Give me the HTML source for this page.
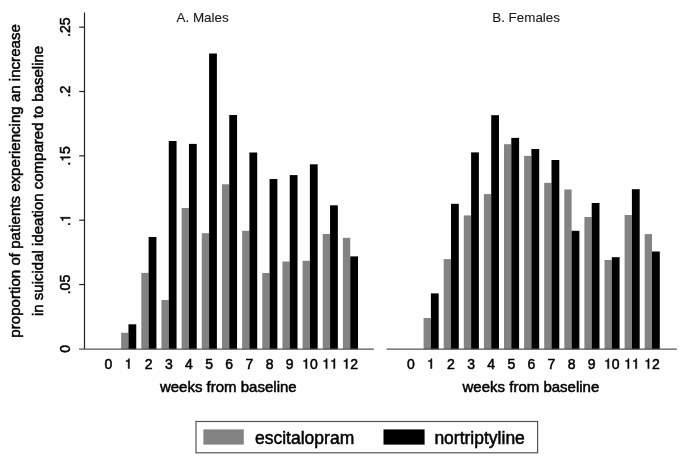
<!DOCTYPE html>
<html><head><meta charset="utf-8">
<style>
html,body{margin:0;padding:0;background:#fff;}
body{width:685px;height:461px;overflow:hidden;}
svg{display:block;font-family:"Liberation Sans", sans-serif;filter:grayscale(1);}
text,.n path{stroke:#000;stroke-width:0.5px;}
.n path{vector-effect:non-scaling-stroke;}
.ttl text{stroke:#1a1a1a;stroke-width:0.1px;}
</style></head>
<body>
<svg width="685" height="461" viewBox="0 0 685 461">
<rect x="0" y="0" width="685" height="461" fill="#fefefe"/>
<g font-size="15" fill="#000">
<text transform="translate(20.2,180.9) rotate(-90)" text-anchor="middle" font-size="15.08">proportion of patients experiencing an increase</text>
<text transform="translate(43,180.9) rotate(-90)" text-anchor="middle">in suicidal ideation compared to baseline</text>
</g>
<g font-size="14" fill="#000" class="n">
<g transform="translate(70.20,348.90) rotate(-90)"><text x="-3.892" y="0">0</text></g>
<g transform="translate(70.20,284.55) rotate(-90)"><text x="-9.730" y="0">.</text><text x="-5.838" y="0">0</text><text x="1.946" y="0">5</text></g>
<g transform="translate(70.20,220.20) rotate(-90)"><text x="-5.838" y="0">.</text><path transform="translate(-1.946,0) scale(0.0140,-0.0140)" d="M259 505H102V568Q204 581 235.0 604.0Q266 627 289 709H347V0H259Z"/></g>
<g transform="translate(70.20,155.85) rotate(-90)"><text x="-9.730" y="0">.</text><path transform="translate(-5.838,0) scale(0.0140,-0.0140)" d="M259 505H102V568Q204 581 235.0 604.0Q266 627 289 709H347V0H259Z"/><text x="1.946" y="0">5</text></g>
<g transform="translate(70.20,91.50) rotate(-90)"><text x="-5.838" y="0">.</text><text x="-1.946" y="0">2</text></g>
<g transform="translate(70.20,27.15) rotate(-90)"><text x="-9.730" y="0">.</text><text x="-5.838" y="0">2</text><text x="1.946" y="0">5</text></g>
</g>
<line x1="79.2" y1="284.55" x2="84.5" y2="284.55" stroke="#222" stroke-width="1.2"/>
<line x1="79.2" y1="220.20" x2="84.5" y2="220.20" stroke="#222" stroke-width="1.2"/>
<line x1="79.2" y1="155.85" x2="84.5" y2="155.85" stroke="#222" stroke-width="1.2"/>
<line x1="79.2" y1="91.50" x2="84.5" y2="91.50" stroke="#222" stroke-width="1.2"/>
<line x1="79.2" y1="27.15" x2="84.5" y2="27.15" stroke="#222" stroke-width="1.2"/>
<g font-size="13.4" fill="#1a1a1a" class="ttl">
<text x="202.6" y="21.5" text-anchor="middle">A. Males</text>
<text x="526.1" y="22.2" text-anchor="middle">B. Females</text>
</g>
<rect x="121.15" y="332.80" width="7.30" height="16.40" fill="#838383"/>
<rect x="128.45" y="324.30" width="7.80" height="24.90" fill="#000"/>
<rect x="141.31" y="272.90" width="7.30" height="76.30" fill="#838383"/>
<rect x="148.61" y="237.00" width="7.80" height="112.20" fill="#000"/>
<rect x="161.47" y="300.00" width="7.30" height="49.20" fill="#838383"/>
<rect x="168.77" y="141.00" width="7.80" height="208.20" fill="#000"/>
<rect x="181.63" y="208.00" width="7.30" height="141.20" fill="#838383"/>
<rect x="188.93" y="143.90" width="7.80" height="205.30" fill="#000"/>
<rect x="201.79" y="233.20" width="7.30" height="116.00" fill="#838383"/>
<rect x="209.09" y="53.50" width="7.80" height="295.70" fill="#000"/>
<rect x="221.95" y="184.30" width="7.30" height="164.90" fill="#838383"/>
<rect x="229.25" y="115.00" width="7.80" height="234.20" fill="#000"/>
<rect x="242.11" y="230.80" width="7.30" height="118.40" fill="#838383"/>
<rect x="249.41" y="152.50" width="7.80" height="196.70" fill="#000"/>
<rect x="262.27" y="273.00" width="7.30" height="76.20" fill="#838383"/>
<rect x="269.57" y="179.00" width="7.80" height="170.20" fill="#000"/>
<rect x="282.43" y="261.50" width="7.30" height="87.70" fill="#838383"/>
<rect x="289.73" y="175.10" width="7.80" height="174.10" fill="#000"/>
<rect x="302.59" y="260.80" width="7.30" height="88.40" fill="#838383"/>
<rect x="309.89" y="164.30" width="7.80" height="184.90" fill="#000"/>
<rect x="322.75" y="234.00" width="7.30" height="115.20" fill="#838383"/>
<rect x="330.05" y="205.30" width="7.80" height="143.90" fill="#000"/>
<rect x="342.91" y="237.80" width="7.30" height="111.40" fill="#838383"/>
<rect x="350.21" y="256.40" width="7.80" height="92.80" fill="#000"/>
<rect x="423.60" y="318.00" width="7.30" height="31.20" fill="#838383"/>
<rect x="430.90" y="293.40" width="7.80" height="55.80" fill="#000"/>
<rect x="443.70" y="259.10" width="7.30" height="90.10" fill="#838383"/>
<rect x="451.00" y="203.80" width="7.80" height="145.40" fill="#000"/>
<rect x="463.80" y="215.40" width="7.30" height="133.80" fill="#838383"/>
<rect x="471.10" y="152.40" width="7.80" height="196.80" fill="#000"/>
<rect x="483.90" y="194.10" width="7.30" height="155.10" fill="#838383"/>
<rect x="491.20" y="115.20" width="7.80" height="234.00" fill="#000"/>
<rect x="504.00" y="144.20" width="7.30" height="205.00" fill="#838383"/>
<rect x="511.30" y="137.90" width="7.80" height="211.30" fill="#000"/>
<rect x="524.10" y="155.90" width="7.30" height="193.30" fill="#838383"/>
<rect x="531.40" y="149.00" width="7.80" height="200.20" fill="#000"/>
<rect x="544.20" y="182.90" width="7.30" height="166.30" fill="#838383"/>
<rect x="551.50" y="160.00" width="7.80" height="189.20" fill="#000"/>
<rect x="564.30" y="189.50" width="7.30" height="159.70" fill="#838383"/>
<rect x="571.60" y="230.80" width="7.80" height="118.40" fill="#000"/>
<rect x="584.40" y="217.00" width="7.30" height="132.20" fill="#838383"/>
<rect x="591.70" y="203.00" width="7.80" height="146.20" fill="#000"/>
<rect x="604.50" y="260.00" width="7.30" height="89.20" fill="#838383"/>
<rect x="611.80" y="257.20" width="7.80" height="92.00" fill="#000"/>
<rect x="624.60" y="215.00" width="7.30" height="134.20" fill="#838383"/>
<rect x="631.90" y="189.20" width="7.80" height="160.00" fill="#000"/>
<rect x="644.70" y="234.10" width="7.30" height="115.10" fill="#838383"/>
<rect x="652.00" y="251.50" width="7.80" height="97.70" fill="#000"/>
<line x1="84.5" y1="12.4" x2="84.5" y2="349.2" stroke="#222" stroke-width="1.2"/>
<line x1="79.1" y1="349.2" x2="373.9" y2="349.2" stroke="#555" stroke-width="1.3"/>
<line x1="386.6" y1="349.2" x2="676.8" y2="349.2" stroke="#555" stroke-width="1.3"/>
<g font-size="14" fill="#000" class="n">
<g transform="translate(108.29,368.60)"><text x="-3.892" y="0">0</text></g>
<g transform="translate(128.45,368.60)"><path transform="translate(-3.892,0) scale(0.0140,-0.0140)" d="M259 505H102V568Q204 581 235.0 604.0Q266 627 289 709H347V0H259Z"/></g>
<g transform="translate(148.61,368.60)"><text x="-3.892" y="0">2</text></g>
<g transform="translate(168.77,368.60)"><text x="-3.892" y="0">3</text></g>
<g transform="translate(188.93,368.60)"><text x="-3.892" y="0">4</text></g>
<g transform="translate(209.09,368.60)"><text x="-3.892" y="0">5</text></g>
<g transform="translate(229.25,368.60)"><text x="-3.892" y="0">6</text></g>
<g transform="translate(249.41,368.60)"><text x="-3.892" y="0">7</text></g>
<g transform="translate(269.57,368.60)"><text x="-3.892" y="0">8</text></g>
<g transform="translate(289.73,368.60)"><text x="-3.892" y="0">9</text></g>
<g transform="translate(309.89,368.60)"><path transform="translate(-7.784,0) scale(0.0140,-0.0140)" d="M259 505H102V568Q204 581 235.0 604.0Q266 627 289 709H347V0H259Z"/><text x="0.000" y="0">0</text></g>
<g transform="translate(330.05,368.60)"><path transform="translate(-7.784,0) scale(0.0140,-0.0140)" d="M259 505H102V568Q204 581 235.0 604.0Q266 627 289 709H347V0H259Z"/><path transform="translate(0.000,0) scale(0.0140,-0.0140)" d="M259 505H102V568Q204 581 235.0 604.0Q266 627 289 709H347V0H259Z"/></g>
<g transform="translate(350.21,368.60)"><path transform="translate(-7.784,0) scale(0.0140,-0.0140)" d="M259 505H102V568Q204 581 235.0 604.0Q266 627 289 709H347V0H259Z"/><text x="0.000" y="0">2</text></g>
<g transform="translate(410.80,368.60)"><text x="-3.892" y="0">0</text></g>
<g transform="translate(430.90,368.60)"><path transform="translate(-3.892,0) scale(0.0140,-0.0140)" d="M259 505H102V568Q204 581 235.0 604.0Q266 627 289 709H347V0H259Z"/></g>
<g transform="translate(451.00,368.60)"><text x="-3.892" y="0">2</text></g>
<g transform="translate(471.10,368.60)"><text x="-3.892" y="0">3</text></g>
<g transform="translate(491.20,368.60)"><text x="-3.892" y="0">4</text></g>
<g transform="translate(511.30,368.60)"><text x="-3.892" y="0">5</text></g>
<g transform="translate(531.40,368.60)"><text x="-3.892" y="0">6</text></g>
<g transform="translate(551.50,368.60)"><text x="-3.892" y="0">7</text></g>
<g transform="translate(571.60,368.60)"><text x="-3.892" y="0">8</text></g>
<g transform="translate(591.70,368.60)"><text x="-3.892" y="0">9</text></g>
<g transform="translate(611.80,368.60)"><path transform="translate(-7.784,0) scale(0.0140,-0.0140)" d="M259 505H102V568Q204 581 235.0 604.0Q266 627 289 709H347V0H259Z"/><text x="0.000" y="0">0</text></g>
<g transform="translate(631.90,368.60)"><path transform="translate(-7.784,0) scale(0.0140,-0.0140)" d="M259 505H102V568Q204 581 235.0 604.0Q266 627 289 709H347V0H259Z"/><path transform="translate(0.000,0) scale(0.0140,-0.0140)" d="M259 505H102V568Q204 581 235.0 604.0Q266 627 289 709H347V0H259Z"/></g>
<g transform="translate(652.00,368.60)"><path transform="translate(-7.784,0) scale(0.0140,-0.0140)" d="M259 505H102V568Q204 581 235.0 604.0Q266 627 289 709H347V0H259Z"/><text x="0.000" y="0">2</text></g>
</g>
<g font-size="15" fill="#000">
<text x="228.3" y="391.6" text-anchor="middle">weeks from baseline</text>
<text x="530.9" y="391.6" text-anchor="middle">weeks from baseline</text>
</g>
<rect x="196.0" y="421.5" width="341.6" height="31.3" fill="none" stroke="#555" stroke-width="1.2"/>
<rect x="203.4" y="429.4" width="40.4" height="15.2" fill="#838383"/>
<rect x="383.5" y="429.4" width="41.1" height="15.2" fill="#000"/>
<g font-size="17.5" fill="#000">
<text x="255" y="443.6">escitalopram</text>
<text x="434.4" y="443.8">nortriptyline</text>
</g>
</svg>
</body></html>
